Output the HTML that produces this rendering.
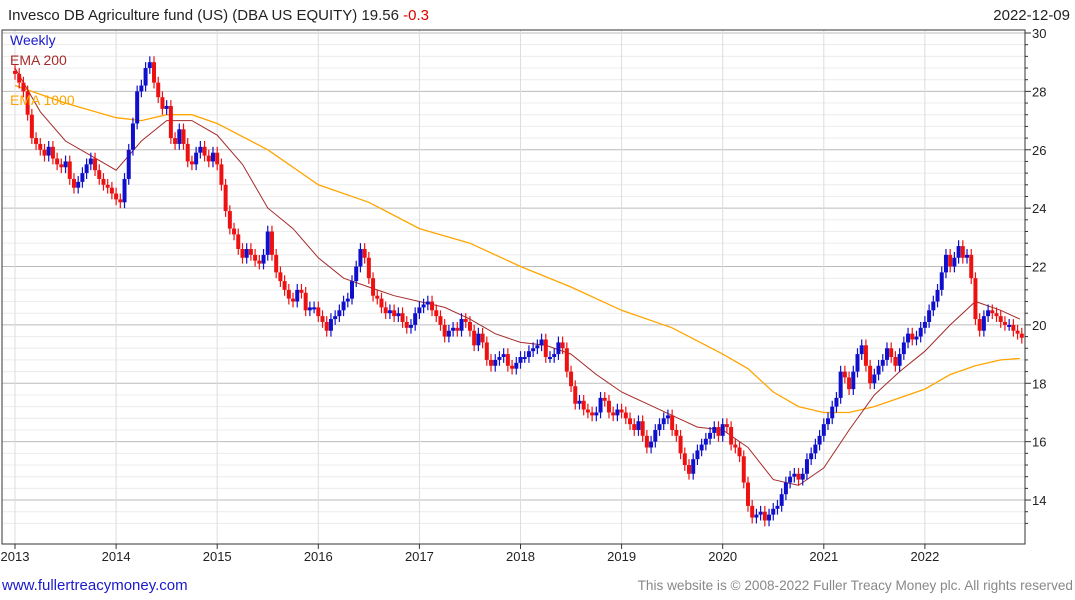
<!DOCTYPE html>
<html><head><meta charset="utf-8"><style>
body{margin:0;background:#fff;width:1075px;height:600px;overflow:hidden;font-family:"Liberation Sans",sans-serif}
svg{position:absolute;left:0;top:0}
</style></head><body>
<svg id="c" width="1075" height="600">
<text x="8" y="20" font-size="15" fill="#222">Invesco DB Agriculture fund (US) (DBA US EQUITY) 19.56 <tspan fill="#e00000">-0.3</tspan></text>
<text x="1070" y="20" font-size="15" fill="#222" text-anchor="end">2022-12-09</text>
<text x="2" y="590" font-size="15" fill="#1a1acc">www.fullertreacymoney.com</text>
<text x="1073" y="590" font-size="13.6" fill="#888" text-anchor="end">This website is © 2008-2022 Fuller Treacy Money plc. All rights reserved</text>
<g id="grid"></g><g id="marks"></g>
<text x="10" y="45" font-size="14" fill="#1a1acc">Weekly</text>
<text x="10" y="65" font-size="14" fill="#a52a2a">EMA 200</text>
<text x="10" y="105" font-size="14" fill="#ffa500">EMA 1000</text>
</svg>
<script>
const years=[2013,2014,2015,2016,2017,2018,2019,2020,2021,2022];
const yTicks=[14,16,18,20,22,24,26,28,30];
const closes=[
28.6,28.3,28.0,27.2,26.4,26.2,26.0,25.8,26.1,25.7,25.5,25.4,25.6,25.0,24.7,24.9,25.2,25.5,25.7,25.3,25.0,24.8,24.7,24.5,24.3,
24.2,25.0,26.0,26.9,28.0,28.2,28.8,29.0,28.3,27.8,27.4,27.5,26.4,26.2,26.7,26.2,25.6,25.5,25.9,26.1,25.8,25.6,25.9,25.5,
24.8,23.9,23.3,23.1,22.6,22.3,22.6,22.4,22.2,22.1,22.4,23.2,22.4,21.8,21.5,21.2,20.9,20.8,21.2,21.1,20.5,20.6,20.6,20.3,
20.1,19.8,20.2,20.3,20.5,20.8,20.9,21.5,22.0,22.6,22.3,21.6,21.0,20.9,20.6,20.4,20.5,20.3,20.4,20.1,19.9,20.0,20.4,20.6,
20.7,20.8,20.5,20.3,20.0,19.6,19.8,19.9,19.8,20.2,20.1,19.8,19.3,19.7,19.4,18.8,18.6,18.8,18.9,19.0,18.6,18.5,18.7,18.9,
18.9,19.1,19.2,19.3,19.5,18.9,18.9,19.0,19.4,19.2,18.4,17.9,17.3,17.4,17.1,17.0,16.9,17.0,17.5,17.4,17.0,16.9,17.1,17.0,
16.8,16.6,16.4,16.7,16.2,15.8,16.0,16.4,16.6,16.8,16.9,16.4,16.2,15.6,15.2,14.9,15.4,15.7,15.9,16.1,16.3,16.5,16.2,16.6,
16.5,15.9,15.8,15.5,14.6,13.8,13.4,13.5,13.6,13.3,13.5,13.7,13.8,14.2,14.6,14.8,14.9,14.7,14.9,15.4,15.6,15.9,16.2,16.6,
16.8,17.2,17.5,18.4,18.2,17.8,18.4,19.0,19.3,18.6,18.0,18.3,18.6,18.8,19.2,18.9,18.6,19.0,19.4,19.7,19.5,19.6,19.9,20.1,
20.5,20.8,21.2,21.8,22.4,22.0,22.3,22.7,22.3,22.4,21.6,20.2,19.8,20.3,20.5,20.4,20.3,20.1,20.0,20.0,19.8,19.7,19.56];
const ema200T=[2013,2013.25,2013.5,2013.75,2014,2014.25,2014.5,2014.75,2015,2015.25,2015.5,2015.75,2016,2016.25,2016.5,2016.75,2017,2017.25,2017.5,2017.75,2018,2018.25,2018.5,2018.75,2019,2019.25,2019.5,2019.75,2020,2020.25,2020.5,2020.75,2021,2021.25,2021.5,2021.75,2022,2022.25,2022.5,2022.75,2022.94];
const ema200V=[28.8,27.3,26.3,25.8,25.3,26.3,27.0,27.0,26.5,25.5,24.0,23.3,22.3,21.6,21.3,21.0,20.8,20.6,20.2,19.7,19.4,19.3,19.0,18.3,17.7,17.3,16.9,16.5,16.4,15.8,14.7,14.5,15.1,16.4,17.6,18.4,19.1,20.0,20.8,20.5,20.2];
const ema1000T=[2013,2013.5,2014,2014.25,2014.5,2014.75,2015,2015.5,2016,2016.5,2017,2017.5,2018,2018.5,2019,2019.5,2020,2020.25,2020.5,2020.75,2021,2021.25,2021.5,2021.75,2022,2022.25,2022.5,2022.75,2022.94];
const ema1000V=[28.2,27.6,27.1,27.0,27.2,27.2,26.9,26.0,24.8,24.2,23.3,22.8,22.0,21.3,20.5,19.9,19.0,18.5,17.7,17.2,17.0,17.0,17.2,17.5,17.8,18.3,18.6,18.8,18.85];

const X0=15,PX=101.1,L=2,R=1025,T=30,B=544;
const xs=t=>X0+(t-2013)*PX;
const ys=v=>33+(30-v)*29.19;
const NS="http://www.w3.org/2000/svg";
function mk(tag,attrs,parent){const e=document.createElementNS(NS,tag);for(const k in attrs)e.setAttribute(k,attrs[k]);parent.appendChild(e);return e;}
const grid=document.getElementById('grid'),marks=document.getElementById('marks');
for(let v=13.2;v<=30.01;v+=0.4){const maj=Math.abs(v-Math.round(v))<0.01&&Math.round(v)%2===0;
 const ln=mk('line',{x1:L,x2:R,y1:ys(v),y2:ys(v),stroke:maj?'#bbb':'#ececec','stroke-width':1},grid);
 
 
 const tk=mk('line',{x1:R,x2:R+(maj?6:3),y1:ys(v),y2:ys(v),stroke:'#333'},grid);
 
 }
yTicks.forEach(v=>{const t=mk('text',{x:R+7,y:ys(v)+5,'font-size':13,fill:'#222'},grid);t.textContent=v;
 
 });
years.forEach(y=>{const x=xs(y);
 const g=mk('line',{x1:x,x2:x,y1:T,y2:B,stroke:'#ddd'},grid);
 
 
 const tk=mk('line',{x1:x,x2:x,y1:B,y2:B+5,stroke:'#333'},grid);
 
 
 const t=mk('text',{x:x,y:B+17,'font-size':13,fill:'#222','text-anchor':'middle'},grid);t.textContent=y;
 
 });
const ax=mk('path',{d:`M${L} ${T}H${R}V${B}H${L}Z`,fill:'none',stroke:'#333','stroke-width':1},grid);


function line(T_,V,color,w,name){const d=T_.map((t,i)=>(i?'L':'M')+xs(t).toFixed(1)+' '+ys(V[i]).toFixed(1)).join('');
 const p=mk('path',{d:d,fill:'none',stroke:color,'stroke-width':w},marks);
 
 }
line(ema1000T,ema1000V,'#ffa500',1.3,'ema1000-line');
line(ema200T,ema200V,'#a52a2a',1,'ema200-line');
const step=1/24;
closes.forEach((c,i)=>{const p=i?closes[i-1]:c+0.1;const up=c>=p;const col=up?'#1010cc':'#ee1111';
 const x=xs(2013+i*step);const hi=Math.max(c,p)+0.2,lo=Math.min(c,p)-0.2;
 const w=mk('line',{x1:x,x2:x,y1:ys(hi),y2:ys(lo),stroke:col,'stroke-width':1.2},marks);
 
 
 const b=mk('rect',{x:x-2,y:ys(Math.max(c,p)),width:4,height:Math.max(2,Math.abs(ys(c)-ys(p))),fill:col},marks);
 
 });
</script>
</body></html>
